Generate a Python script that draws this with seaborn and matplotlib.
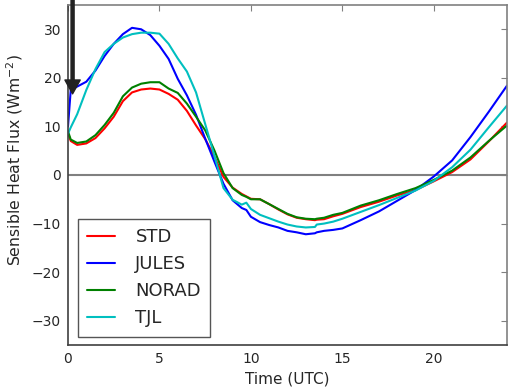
import numpy as np
import pandas as pd
import matplotlib
matplotlib.use("Agg")
import matplotlib.pyplot as plt
import seaborn as sns

time = [0, 0.15, 0.5, 1, 1.5, 2, 2.5, 3, 3.5, 4, 4.5, 5, 5.5, 6, 6.5, 7, 7.5, 8,
        8.5, 9, 9.5, 9.75, 10, 10.5, 11, 11.5, 12, 12.5, 13, 13.5, 13.6, 14, 14.5,
        15, 16, 17, 18, 19, 20, 21, 22, 23, 24]

std = [8.6, 7.0, 6.2, 6.5, 7.6, 9.6, 12.0, 15.2, 17.0, 17.6, 17.8, 17.6, 16.7, 15.5,
       13.2, 10.2, 7.4, 3.8, -0.4, -2.6, -3.9, -4.4, -4.9, -5.0, -6.0, -7.1, -8.1,
       -8.8, -9.1, -9.3, -9.2, -9.1, -8.5, -8.0, -6.6, -5.5, -4.2, -3.1, -1.3, 0.6,
       3.2, 6.9, 10.8]

jules = [10.0, 17.5, 18.2, 19.2, 21.5, 24.5, 27.0, 29.0, 30.3, 30.0, 28.8, 26.6,
         23.9, 19.8, 16.4, 12.4, 7.5, 2.8, -1.8, -5.2, -6.8, -7.2, -8.6, -9.7,
         -10.3, -10.8, -11.5, -11.8, -12.2, -12.0, -11.8, -11.5, -11.3, -11.0, -9.3,
         -7.5, -5.3, -3.1, -0.3, 3.0, 7.8, 13.0, 18.4]

norad = [9.0, 7.3, 6.6, 6.9, 8.2, 10.3, 12.8, 16.2, 18.0, 18.8, 19.1, 19.1, 17.8,
         16.9, 14.7, 12.0, 9.2, 5.1, 0.4, -2.7, -4.1, -4.5, -5.0, -5.0, -6.0, -7.0,
         -8.0, -8.7, -9.0, -9.1, -9.0, -8.8, -8.2, -7.8, -6.3, -5.2, -3.9, -2.7,
         -1.0, 0.9, 3.6, 7.0, 10.2]

tjl = [8.5, 9.8, 12.5, 17.5, 21.8, 25.3, 27.0, 28.3, 29.0, 29.3, 29.3, 29.1, 27.0,
       24.0, 21.3, 17.0, 10.5, 4.0, -2.7, -5.1, -6.1, -5.7, -7.0, -8.2, -8.9, -9.6,
       -10.2, -10.6, -10.8, -10.7, -10.2, -10.0, -9.6, -9.0, -7.6, -6.2, -4.7, -3.2,
       -1.2, 1.6, 5.2, 9.8, 14.3]

series_names = ["STD", "JULES", "NORAD", "TJL"]
series_colors = ["#ff0000", "#0000ff", "#008000", "#00bfbf"]

arrow_x = 0.25
arrow_tip = 16.7

df = pd.concat([
    pd.DataFrame({"time": time, "flux": vals, "run": name})
    for name, vals in zip(series_names, [std, jules, norad, tjl])
], ignore_index=True)

sns.set_theme(style="white")
plt.rcParams["font.family"] = ["DejaVu Sans"]

fig = plt.figure(figsize=(5.08, 3.89), dpi=100)
ax = fig.add_axes([68 / 508, 1 - 345 / 389, (507 - 68) / 508, (345 - 5) / 389])

ax.axhline(0, color="#808080", lw=1.5, zorder=1)

sns.lineplot(data=df, x="time", y="flux", hue="run", hue_order=series_names,
             palette=series_colors, estimator=None, lw=1.5, ax=ax, legend=True)

ax.set_xlim(0, 24)
ax.set_ylim(-35, 35)
ax.set_xticks([0, 5, 10, 15, 20])
ax.set_yticks([-30, -20, -10, 0, 10, 20, 30])
ax.set_yticklabels(["\u221230", "\u221220", "\u221210", "0", "10", "20", "30"])

for s in ax.spines.values():
    s.set_color("#808080")
    s.set_linewidth(1.2)
ax.spines["bottom"].set_color("#404040")
ax.spines["left"].set_color("#404040")

ax.tick_params(direction="in", length=4, width=0.8, color="#808080",
               top=True, right=True, labelsize=10, labelcolor="#262626", pad=5)

ax.set_xlabel("Time (UTC)", fontsize=11, color="#262626", labelpad=4)
ax.set_ylabel("Sensible Heat Flux (Wm$^{-2}$)", fontsize=11.3, color="#262626")
ax.yaxis.set_label_coords(-0.098, 0.545)

handles, labels = ax.get_legend_handles_labels()
leg = ax.legend(handles, labels, loc="lower left", bbox_to_anchor=(0.022, 0.025),
                borderaxespad=0, fontsize=13, frameon=True, fancybox=False,
                edgecolor="#555555", framealpha=1, handlelength=1.55,
                handletextpad=1.15, labelspacing=0.5, borderpad=0.5)
leg.get_frame().set_linewidth(1.0)
for t in leg.get_texts():
    t.set_color("#262626")
for line in leg.get_lines():
    line.set_linewidth(1.5)

ax.annotate("", xy=(arrow_x, arrow_tip), xytext=(arrow_x, 36.5),
            arrowprops=dict(width=2.2, headwidth=11, headlength=10,
                            color="#222222", shrink=0),
            annotation_clip=False)

fig.savefig("out.png", dpi=100)
